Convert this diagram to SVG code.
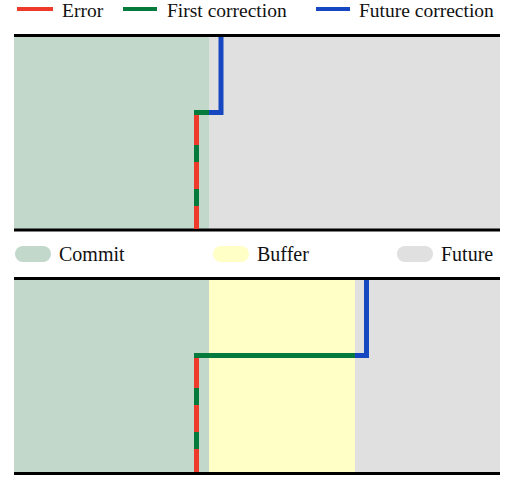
<svg xmlns="http://www.w3.org/2000/svg" width="520" height="479" viewBox="0 0 520 479">
<style>
text{font-family:"Liberation Serif","Times New Roman",Times,serif;font-size:20px;fill:#111}
.commit{fill:#c1d8cb}.buffer{fill:#ffffc6}.future{fill:#e0e0e0}
.axis{stroke:#000;stroke-width:3}
.err{stroke:#ee3a2a;stroke-width:5;fill:none}
.fst{stroke:#047a3c;stroke-width:5;fill:none}
.fut{stroke:#1747c0;stroke-width:5;fill:none}
.dash{stroke:#047a3c;stroke-width:5;stroke-dasharray:17 27;fill:none}
</style>
<g id="legend-lines" font-family="Liberation Serif, Times New Roman, serif">
<line class="err" x1="17" y1="9" x2="53" y2="9" style="stroke-width:4"/>
<text x="62" y="17" style="font-size:19.5px">Error</text>
<line class="fst" x1="123" y1="9" x2="157" y2="9" style="stroke-width:4"/>
<text x="167" y="17" style="font-size:19.5px">First correction</text>
<line class="fut" x1="316" y1="9" x2="350" y2="9" style="stroke-width:4"/>
<text x="359" y="17" style="font-size:19.5px">Future correction</text>
</g>
<g id="panel-top">
<rect class="commit" x="14" y="37" width="195" height="192"/>
<rect class="future" x="209" y="37" width="291" height="192"/>
<line class="axis" x1="14" y1="35.5" x2="500" y2="35.5"/>
<line class="axis" x1="14" y1="230" x2="500" y2="230"/>
</g>
<g id="legend-areas" font-family="Liberation Serif, Times New Roman, serif">
<rect class="commit" x="15" y="246" width="36" height="16" rx="8"/>
<text x="59" y="261">Commit</text>
<rect class="buffer" x="213" y="246" width="36" height="16" rx="8"/>
<text x="257" y="261">Buffer</text>
<rect class="future" x="397" y="246" width="36" height="16" rx="8"/>
<text x="441" y="261">Future</text>
</g>
<g id="panel-bottom">
<rect class="commit" x="14" y="280" width="195" height="192"/>
<rect class="buffer" x="209" y="280" width="146" height="192"/>
<rect class="future" x="355" y="280" width="145" height="192"/>
<line class="axis" x1="14" y1="278.5" x2="500" y2="278.5"/>
<line class="axis" x1="14" y1="473.5" x2="500" y2="473.5"/>
</g>
<g id="connectors">
<line class="err" x1="196.5" y1="112" x2="196.5" y2="229"/>
<line class="dash" x1="196.5" y1="145" x2="196.5" y2="229"/>
<polyline class="fst" points="194,112.5 209,112.5"/>
<polyline class="fut" points="209,112.5 221,112.5 221,37"/>
<line class="err" x1="196.5" y1="355" x2="196.5" y2="472"/>
<line class="dash" x1="196.5" y1="388" x2="196.5" y2="472"/>
<polyline class="fst" points="194,355.5 355,355.5"/>
<polyline class="fut" points="355,355.5 366.5,355.5 366.5,280"/>
</g>
</svg>
